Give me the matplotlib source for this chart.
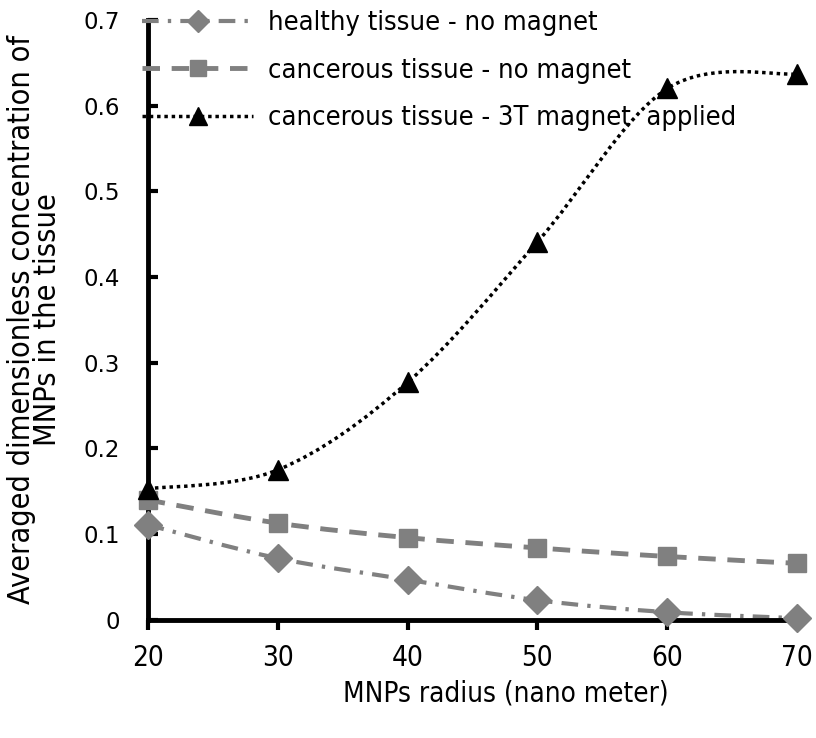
import matplotlib
matplotlib.use('Agg')
import matplotlib.pyplot as plt
from matplotlib.path import Path
from matplotlib.patches import PathPatch
from matplotlib.lines import Line2D
from matplotlib import font_manager

# data
radius = [20, 30, 40, 50, 60, 70]
healthy_no_magnet = [0.111, 0.072, 0.047, 0.023, 0.009, 0.002]
cancer_no_magnet = [0.140, 0.113, 0.096, 0.084, 0.074, 0.066]
cancer_magnet = [0.153, 0.175, 0.277, 0.441, 0.620, 0.637]

labels = ['healthy tissue - no magnet',
          'cancerous tissue - no magnet',
          'cancerous tissue - 3T magnet  applied']

GRAY = '#808080'


def narrow(size):
    return font_manager.FontProperties(family='DejaVu Sans', stretch='condensed', size=size)


def smooth_path(x, y):
    # Excel-like smoothed line drawn as cubic bezier segments
    n = len(x)
    verts = [(x[0], y[0])]
    codes = [Path.MOVETO]
    for i in range(n - 1):
        i0 = max(i - 1, 0)
        i3 = min(i + 2, n - 1)
        c1 = (x[i] + (x[i + 1] - x[i0]) / 6, y[i] + (y[i + 1] - y[i0]) / 6)
        c2 = (x[i + 1] - (x[i3] - x[i]) / 6, y[i + 1] - (y[i3] - y[i]) / 6)
        verts += [c1, c2, (x[i + 1], y[i + 1])]
        codes += [Path.CURVE4] * 3
    return Path(verts, codes)


fig = plt.figure(figsize=(8.16, 7.38), dpi=100)
ax = fig.add_axes([0.181, 0.160, 0.796, 0.813])

styles = [
    dict(color=GRAY, ls=(0, (4, 2.2, 0.8, 2.2)), lw=3, marker='D', ms=14, lms=11),
    dict(color=GRAY, ls=(0, (3.6, 2.4)), lw=3.5, marker='s', ms=13, lms=11),
    dict(color='black', ls=(0, (1, 1.1)), lw=2.5, marker='^', ms=15, lms=13),
]
series = [healthy_no_magnet, cancer_no_magnet, cancer_magnet]

handles = []
for ys, st, lab in zip(series, styles, labels):
    patch = PathPatch(smooth_path(radius, ys), facecolor='none', edgecolor=st['color'],
                      lw=st['lw'], linestyle=st['ls'], zorder=2, clip_on=False)
    ax.add_patch(patch)
    ax.plot(radius, ys, linestyle='none', marker=st['marker'], ms=st['ms'],
            color=st['color'], zorder=3, clip_on=False)
    handles.append(Line2D([], [], color=st['color'], ls=st['ls'], lw=st['lw'],
                          marker=st['marker'], ms=st['lms']))

ax.set_xlim(20, 70)
ax.set_ylim(0, 0.7)
ax.set_xticks(radius)
ax.set_yticks([0, 0.1, 0.2, 0.3, 0.4, 0.5, 0.6, 0.7])
ax.set_yticklabels(['0', '0.1', '0.2', '0.3', '0.4', '0.5', '0.6', '0.7'])

for s in ['top', 'right']:
    ax.spines[s].set_visible(False)
for s in ['left', 'bottom']:
    ax.spines[s].set_linewidth(3.5)
    ax.spines[s].set_color('black')

ax.tick_params(axis='y', direction='in', length=7, width=3, labelsize=16.5, pad=20)
ax.tick_params(axis='x', direction='out', length=7, width=3, pad=10)
for t in ax.get_xticklabels():
    t.set_fontproperties(narrow(20))

ax.set_xlabel('MNPs radius (nano meter)', fontproperties=narrow(20), labelpad=6, x=0.552)
ax.set_ylabel('Averaged dimensionless concentration of\nMNPs in the tissue',
              fontproperties=narrow(22), linespacing=0.88)
ax.yaxis.set_label_coords(-0.132, 0.5)

ax.legend(handles, labels, loc='upper left', bbox_to_anchor=(-0.046, 1.057),
          frameon=False, handlelength=4.1, handletextpad=0.55, labelspacing=0.8,
          prop=narrow(19.5))

fig.savefig('out.png', dpi=100)
